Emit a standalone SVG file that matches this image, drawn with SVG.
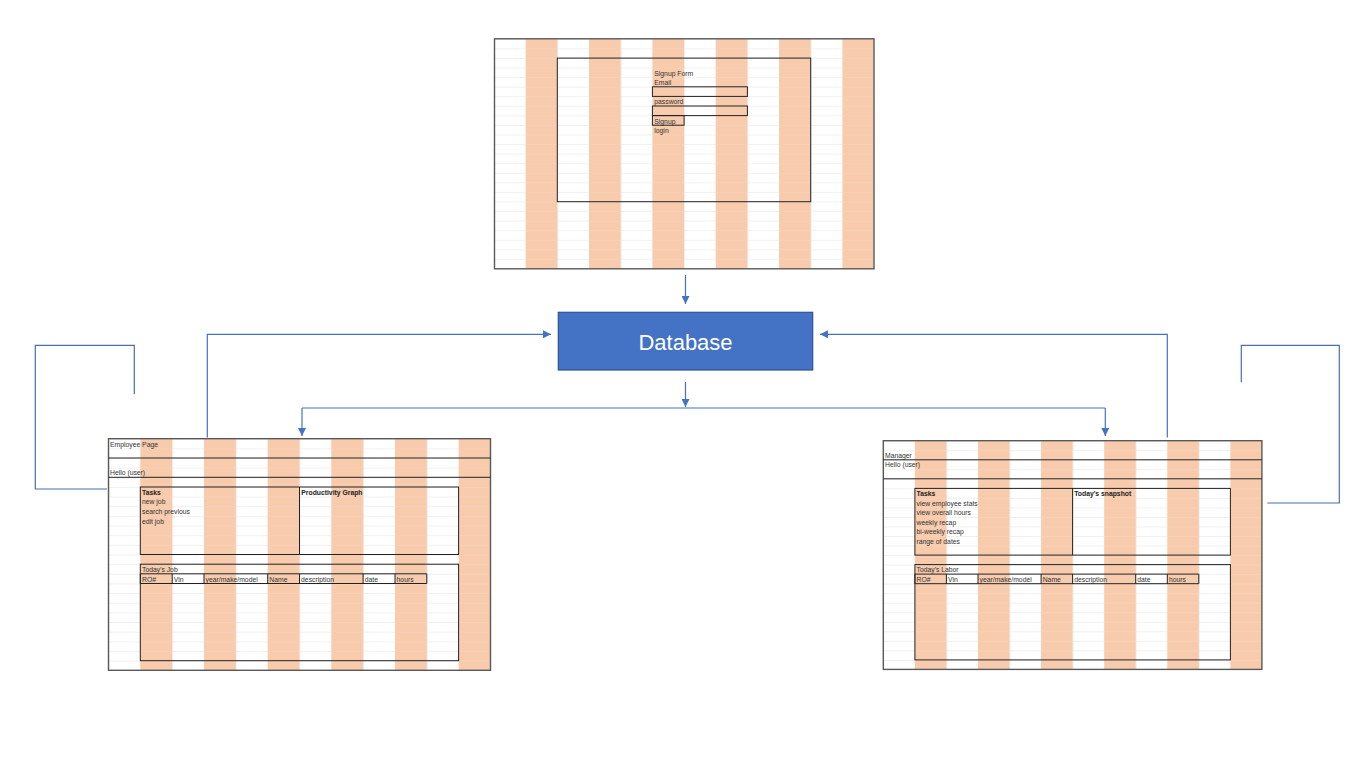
<svg xmlns="http://www.w3.org/2000/svg" width="1368" height="761" viewBox="0 0 1368 761">
<style>
.t{font-family:"Liberation Sans",Arial,sans-serif;font-size:6.8px;fill:#333}
.b{font-weight:bold;fill:#222}
.box{fill:none;stroke:#222;stroke-width:1}
.sheet{stroke:#595959;stroke-width:1.4}
.ln{fill:none;stroke:#222;stroke-width:1}
.c{fill:none;stroke:#4472C4;stroke-width:1.2}
.loop{fill:none;stroke:#4A6FAF;stroke-width:1.2}
</style>
<defs>
<marker id="ah" markerUnits="userSpaceOnUse" markerWidth="9" markerHeight="8" refX="8" refY="4" orient="auto">
<path d="M0,0 L8,4 L0,8 z" fill="#4472C4"/>
</marker>
<pattern id="gTop" patternUnits="userSpaceOnUse" x="494" y="38.8" width="63.34" height="9.57">
<rect width="63.34" height="9.57" fill="#fff"/>
<rect x="31.67" width="31.67" height="9.57" fill="#F8CBAD"/>
<path d="M0 0.3H31.67" stroke="#E2E2E2" stroke-width="0.6"/>
<path d="M31.67 0.3H63.34" stroke="#F6D6C1" stroke-width="0.6"/>
<path d="M0.3 0V9.57" stroke="#E2E2E2" stroke-width="0.6"/>
</pattern>
<pattern id="gEmp" patternUnits="userSpaceOnUse" x="108.5" y="438.7" width="63.66" height="9.65">
<rect width="63.66" height="9.65" fill="#fff"/>
<rect x="31.83" width="31.83" height="9.65" fill="#F8CBAD"/>
<path d="M0 0.3H31.83" stroke="#E2E2E2" stroke-width="0.6"/>
<path d="M31.83 0.3H63.66" stroke="#F6D6C1" stroke-width="0.6"/>
<path d="M0.3 0V9.65" stroke="#E2E2E2" stroke-width="0.6"/>
</pattern>
<pattern id="gMgr" patternUnits="userSpaceOnUse" x="883.3" y="440.7" width="63.1" height="9.53">
<rect width="63.1" height="9.53" fill="#fff"/>
<rect x="31.55" width="31.55" height="9.53" fill="#F8CBAD"/>
<path d="M0 0.3H31.55" stroke="#E2E2E2" stroke-width="0.6"/>
<path d="M31.55 0.3H63.1" stroke="#F6D6C1" stroke-width="0.6"/>
<path d="M0.3 0V9.53" stroke="#E2E2E2" stroke-width="0.6"/>
</pattern>
</defs>
<rect width="1368" height="761" fill="#fff"/>

<g id="signup">
<rect class="sheet" x="494.5" y="38.8" width="379.5" height="230" fill="url(#gTop)"/>
<rect class="box" x="557.3" y="58.1" width="253.4" height="143.6"/>
<rect class="box" x="652.4" y="86.8" width="95" height="9.6"/>
<rect class="box" x="652.4" y="106" width="95" height="9.6"/>
<rect class="box" x="652.4" y="115.6" width="31.7" height="9.6"/>
<text class="t" x="654.3" y="75.5">Signup Form</text>
<text class="t" x="654.3" y="85">Email</text>
<text class="t" x="654.3" y="104.3">password</text>
<text class="t" x="654.3" y="123.6">Signup</text>
<text class="t" x="654.3" y="133.2">login</text>
</g>

<g id="database">
<rect x="558.3" y="312.3" width="254.4" height="57.7" fill="#4472C4" stroke="#2F528F" stroke-width="1.2"/>
<text x="685.5" y="349.5" text-anchor="middle" font-family="Liberation Sans,Arial,sans-serif" font-size="22" fill="#fff">Database</text>
</g>

<g id="employee">
<rect class="sheet" x="108.5" y="438.7" width="382" height="231.6" fill="url(#gEmp)"/>
<path class="ln" d="M108.5 458H490.5M108.5 477.3H490.5"/>
<rect class="box" x="140.3" y="487" width="318.3" height="67.5"/>
<path class="ln" d="M299.5 487V554.5"/>
<rect class="box" x="140.3" y="564.2" width="318.3" height="96.5"/>
<path class="ln" d="M140.3 573.8H426.8V583.5H140.3ZM172.2 573.8V583.5M204 573.8V583.5M267.7 573.8V583.5M299.5 573.8V583.5M363.1 573.8V583.5M395 573.8V583.5"/>
<text class="t" x="110" y="446.5">Employee Page</text>
<text class="t" x="110" y="475.3">Hello (user)</text>
<text class="t b" x="142" y="494.8">Tasks</text>
<text class="t" x="142" y="504.4">new job</text>
<text class="t" x="142" y="514">search previous</text>
<text class="t" x="142" y="523.7">edit job</text>
<text class="t b" x="301.3" y="494.8">Productivity Graph</text>
<text class="t" x="142" y="572">Today's Job</text>
<text class="t" x="142" y="581.6">RO#</text>
<text class="t" x="173.8" y="581.6">Vin</text>
<text class="t" x="205.6" y="581.6">year/make/model</text>
<text class="t" x="269.3" y="581.6">Name</text>
<text class="t" x="301.1" y="581.6">description</text>
<text class="t" x="364.7" y="581.6">date</text>
<text class="t" x="396.6" y="581.6">hours</text>
</g>

<g id="manager">
<rect class="sheet" x="883.3" y="440.7" width="378.6" height="228.7" fill="url(#gMgr)"/>
<path class="ln" d="M883.3 459.8H1261.9M883.3 478.8H1261.9"/>
<rect class="box" x="914.9" y="488.4" width="315.5" height="66.7"/>
<path class="ln" d="M1072.6 488.4V555.1"/>
<rect class="box" x="914.9" y="564.6" width="315.5" height="95.3"/>
<path class="ln" d="M914.9 574.1H1198.8V583.7H914.9ZM946.4 574.1V583.7M978 574.1V583.7M1041.1 574.1V583.7M1072.6 574.1V583.7M1135.7 574.1V583.7M1167.3 574.1V583.7"/>
<text class="t" x="885" y="457.9">Manager</text>
<text class="t" x="885" y="467.4">Hello (user)</text>
<text class="t b" x="916.5" y="496">Tasks</text>
<text class="t" x="916.5" y="505.5">view employee stats</text>
<text class="t" x="916.5" y="515.1">view overall hours</text>
<text class="t" x="916.5" y="524.6">weekly recap</text>
<text class="t" x="916.5" y="534.1">bi-weekly recap</text>
<text class="t" x="916.5" y="543.7">range of dates</text>
<text class="t b" x="1074.2" y="496">Today's snapshot</text>
<text class="t" x="916.5" y="572.2">Today's Labor</text>
<text class="t" x="916.5" y="581.8">RO#</text>
<text class="t" x="948" y="581.8">Vin</text>
<text class="t" x="979.6" y="581.8">year/make/model</text>
<text class="t" x="1042.7" y="581.8">Name</text>
<text class="t" x="1074.2" y="581.8">description</text>
<text class="t" x="1137.3" y="581.8">date</text>
<text class="t" x="1168.9" y="581.8">hours</text>
</g>

<g id="connectors">
<path class="c" d="M685.5 275V304" marker-end="url(#ah)"/>
<path class="c" d="M685.5 382V407" marker-end="url(#ah)"/>
<path class="c" d="M302 408H1105.3"/>
<path class="c" d="M302 408V436" marker-end="url(#ah)"/>
<path class="c" d="M1105.3 408V436" marker-end="url(#ah)"/>
<path class="c" d="M207.3 437.5V334.3H551" marker-end="url(#ah)"/>
<path class="c" d="M1167.3 437.5V334.3H820" marker-end="url(#ah)"/>
<path class="loop" d="M134.3 394.3V345.3H35.3V489H107"/>
<path class="loop" d="M1241.3 382.3V345.3H1339.3V503H1267.3"/>
</g>
</svg>
